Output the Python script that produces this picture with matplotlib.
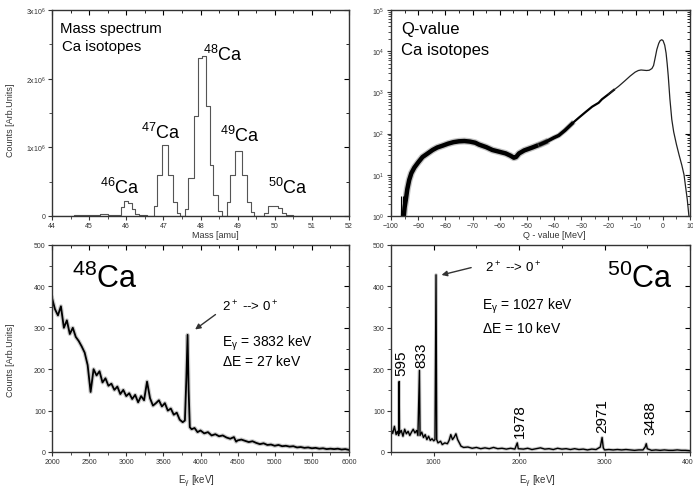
import numpy as np
import matplotlib.pyplot as plt
from matplotlib.ticker import MultipleLocator, FixedLocator, LogLocator, NullFormatter

plt.rcParams['font.family'] = ['Liberation Sans', 'DejaVu Sans']
plt.rcParams['mathtext.fontset'] = 'custom'
plt.rcParams['mathtext.rm'] = 'Liberation Sans'
plt.rcParams['mathtext.it'] = 'Liberation Sans:italic'
plt.rcParams['mathtext.default'] = 'regular'

# mass spectrum (step edges, counts in units of 1e6)
mass_edges = [44.0, 44.6, 45.0, 45.3, 45.5, 45.65, 45.85, 45.94, 46.06, 46.15, 46.24, 46.33, 46.55,
              46.75, 46.83, 46.95, 47.12, 47.25, 47.37, 47.45, 47.58, 47.66, 47.82, 47.92, 48.03,
              48.15, 48.25, 48.35, 48.46, 48.57, 48.71, 48.80, 48.93, 49.11, 49.25, 49.36, 49.45,
              49.70, 49.82, 50.08, 50.19, 50.30, 50.50, 52.0]
mass_counts = [0.0, 0.01, 0.02, 0.03, 0.02, 0.01, 0.13, 0.22, 0.19, 0.10, 0.03, 0.01, 0.0,
               0.15, 0.60, 1.03, 0.60, 0.20, 0.05, 0.0, 0.10, 0.55, 1.45, 2.30, 2.33,
               1.60, 0.75, 0.30, 0.07, 0.0, 0.20, 0.59, 0.95, 0.59, 0.20, 0.06, 0.0,
               0.05, 0.15, 0.11, 0.05, 0.01, 0.0, 0.0]
iso_labels = ['46', '47', '48', '49', '50']
iso_x = [45.29, 46.40, 48.08, 48.53, 49.83]
iso_y = [0.34, 1.13, 2.27, 1.09, 0.34]

# Q-value spectrum
q_val = [-95.3, -95.0, -94.5, -94.0, -93.3, -92.5, -91.4, -90.0, -88.4, -86.5, -84.7, -83.0,
         -81.0, -79.0, -77.0, -75.0, -73.0, -71.0, -69.0, -67.6, -65.0, -62.7, -60.0, -57.8,
         -56.0, -54.8, -54.0, -52.9, -51.0, -48.0, -45.0, -43.2, -40.0, -38.3, -36.0, -33.4,
         -31.0, -28.5, -26.0, -23.6, -22.4, -20.0, -18.0, -16.3, -14.0, -12.0, -10.2, -9.0,
         -8.0, -7.0, -6.0, -5.0, -4.0, -3.4, -2.7, -2.2, -1.5, -1.0, -0.4, 0.1, 0.7, 1.2,
         1.6, 2.0, 2.6, 3.3, 4.0, 5.0, 6.0, 7.0, 7.8, 8.4, 9.0, 9.6]
q_counts = [1.0, 1.6, 2.6, 4.5, 7.5, 11, 15, 20, 27, 33, 40, 46,
            51, 57, 62, 65, 66, 64, 60, 54, 47, 40, 36, 33,
            29, 26, 27, 33, 39, 46, 55, 62, 80, 90, 120, 175,
            240, 330, 450, 560, 680, 900, 1150, 1400, 1900, 2500, 3100, 3400,
            3500, 3450, 3400, 3450, 3800, 4500, 7500, 11000, 15500, 18000, 19000, 18000, 14000, 9000,
            5000, 2500, 700, 220, 110, 55, 30, 17, 10, 5, 2.5, 1.0]
q_spikes = [-96.4, -95.6]
q_spike_top = [3.0, 3.0]

# 48Ca gamma spectrum
e48 = [2000, 2040, 2080, 2120, 2160, 2200, 2240, 2280, 2320, 2360, 2400, 2440, 2480, 2520,
       2560, 2600, 2640, 2680, 2720, 2760, 2800, 2840, 2880, 2920, 2960, 3000, 3040, 3080,
       3120, 3160, 3200, 3240, 3280, 3320, 3360, 3400, 3440, 3480, 3520, 3560, 3600, 3640,
       3680, 3720, 3760, 3790, 3810, 3826, 3840, 3856, 3880, 3920, 3960, 4000, 4050, 4100,
       4150, 4200, 4250, 4300, 4350, 4400, 4450, 4480, 4500, 4550, 4600, 4650, 4700, 4750,
       4800, 4850, 4900, 4950, 5000, 5050, 5100, 5150, 5200, 5250, 5300, 5350, 5400, 5450,
       5500, 5550, 5600, 5650, 5700, 5750, 5800, 5850, 5900, 5950, 6000]
c48 = [372, 345, 330, 352, 300, 318, 285, 300, 278, 268, 255, 240, 210, 145,
       200, 185, 195, 168, 178, 160, 165, 150, 158, 140, 150, 135, 142, 128,
       138, 120, 135, 125, 170, 130, 112, 118, 125, 110, 118, 100, 105, 90,
       95, 78, 72, 76, 180, 283, 150, 60, 55, 58, 48, 52, 45, 48,
       40, 43, 38, 40, 35, 32, 36, 25, 28, 30, 27, 24, 26, 22,
       19, 21, 17, 18, 15, 17, 14, 15, 13, 14, 11, 12, 10, 11,
       9, 10, 8, 9, 7, 8, 7, 8, 6, 7, 5]

# 50Ca gamma spectrum
e50 = [500, 520, 540, 560, 575, 590, 595, 600, 620, 640, 660, 680, 700, 720, 740, 760, 780,
       800, 815, 833, 840, 860, 880, 900, 920, 940, 960, 980, 1000, 1015, 1027, 1035, 1050,
       1080, 1100, 1130, 1160, 1180, 1200, 1220, 1240, 1260, 1280, 1300, 1320, 1350, 1400,
       1450, 1500, 1550, 1600, 1650, 1700, 1750, 1800, 1850, 1900, 1950, 1978, 1990, 2050,
       2100, 2150, 2200, 2250, 2300, 2350, 2400, 2450, 2500, 2550, 2600, 2650, 2700, 2750,
       2800, 2850, 2900, 2950, 2971, 2985, 3000, 3050, 3100, 3150, 3200, 3250, 3300, 3350,
       3400, 3450, 3475, 3488, 3500, 3550, 3600, 3650, 3700, 3750, 3800, 3850, 3900, 3950, 4000]
c50 = [55, 45, 62, 42, 50, 40, 170, 45, 52, 38, 55, 44, 50, 40, 48, 55, 46,
       52, 40, 197, 40, 48, 35, 42, 30, 38, 28, 32, 27, 30, 428, 30, 22,
       26, 18, 22, 20, 28, 42, 30, 36, 44, 30, 22, 14, 11, 12,
       9, 11, 8, 10, 8, 11, 8, 9, 7, 9, 7, 22, 8, 7,
       9, 6, 8, 10, 7, 8, 6, 9, 7, 8, 6, 8, 6, 7,
       5, 7, 6, 12, 35, 10, 5, 6, 5, 6, 5, 6, 5, 4,
       5, 5, 12, 20, 8, 4, 5, 4, 5, 4, 4, 5, 4, 4, 3]
line_labels = ['595', '833', '1978', '2971', '3488']
line_lab_x = [617, 860, 2010, 2967, 3533]
line_lab_y = [185, 205, 36, 48, 44]

fc = '#222222'
fig = plt.figure(figsize=(6.93, 4.89), dpi=100)
ax1 = fig.add_axes([52/693, 1-217/489, 297/693, 206/489])
ax2 = fig.add_axes([391/693, 1-217/489, 299/693, 206/489])
ax3 = fig.add_axes([52/693, 1-453/489, 297/693, 207/489])
ax4 = fig.add_axes([391/693, 1-453/489, 299/693, 207/489])

def style(ax):
    for s in ax.spines.values():
        s.set_linewidth(1.0)
        s.set_color('#333333')
    ax.tick_params(which='both', direction='out', labelsize=5, pad=1.5, colors='#333333')
    ax.tick_params(which='major', length=3, width=0.8)
    ax.tick_params(which='minor', length=2, width=0.6)
    sx = ax.secondary_xaxis('top')
    sy = ax.secondary_yaxis('right')
    for sa in (sx, sy):
        for s in sa.spines.values():
            s.set_visible(False)
    return sx, sy

# top left: mass spectrum
ax1.step(mass_edges, mass_counts, where='post', color='#555555', lw=0.8)
ax1.set_xlim(44, 52)
ax1.set_ylim(0, 3)
ax1.xaxis.set_major_locator(MultipleLocator(1))
ax1.xaxis.set_minor_locator(MultipleLocator(0.5))
ax1.yaxis.set_major_locator(MultipleLocator(1))
ax1.yaxis.set_minor_locator(MultipleLocator(0.5))
ax1.yaxis.set_major_formatter(plt.FuncFormatter(lambda v, p: '0' if v == 0 else '%dx10$^6$' % v))
sx, sy = style(ax1)
sx.set_ticks(list(range(44, 53)))
sy.set_ticks([0, 1, 2, 3])
sx.xaxis.set_minor_locator(MultipleLocator(0.5))
sy.yaxis.set_minor_locator(MultipleLocator(0.5))
sx.tick_params(which='both', direction='in', labeltop=False)
sy.tick_params(which='both', direction='in', labelright=False)
ax1.set_xlabel('Mass [amu]', fontsize=6.5, color='#333333')
ax1.xaxis.set_label_coords(0.55, -0.068)
ax1.set_ylabel('Counts [Arb.Units]', fontsize=6.5, color='#333333')
ax1.yaxis.set_label_coords(-0.125, 0.47)
ax1.text(0.027, 0.913, 'Mass spectrum', transform=ax1.transAxes, fontsize=10.8, va='center')
ax1.text(0.033, 0.825, 'Ca isotopes', transform=ax1.transAxes, fontsize=10.8, va='center')
for lab, x, y in zip(iso_labels, iso_x, iso_y):
    ax1.text(x, y, '$^{%s}$Ca' % lab, fontsize=13, va='baseline', ha='left')

# top right: Q-value
qv = np.array(q_val)
qc = np.array(q_counts)
m1 = qv <= -43
m2 = (qv >= -45) & (qv <= -33)
m3 = (qv >= -36) & (qv <= -18)
m4 = qv >= -20
ax2.plot(qv[m1], qc[m1], color='#888888', lw=5.0, alpha=0.5, solid_joinstyle='round')
ax2.plot(qv[m1], qc[m1], color='black', lw=3.2, solid_joinstyle='round')
ax2.plot(qv[m2], qc[m2], color='#888888', lw=3.8, alpha=0.5, solid_joinstyle='round')
ax2.plot(qv[m2], qc[m2], color='black', lw=2.5, solid_joinstyle='round')
ax2.plot(qv[m3], qc[m3], color='black', lw=1.6, solid_joinstyle='round')
ax2.plot(qv[m4], qc[m4], color=fc, lw=0.9)
ax2.vlines(q_spikes, 1, q_spike_top, color='black', lw=0.8)
ax2.set_yscale('log')
ax2.set_xlim(-100, 10)
ax2.set_ylim(1, 1e5)
ax2.xaxis.set_major_locator(MultipleLocator(10))
ax2.xaxis.set_minor_locator(MultipleLocator(5))
ax2.yaxis.set_major_locator(LogLocator(base=10, numticks=10))
ax2.yaxis.set_minor_locator(LogLocator(base=10, subs=np.arange(2, 10), numticks=10))
ax2.yaxis.set_minor_formatter(NullFormatter())
sx, sy = style(ax2)
sx.set_ticks(list(range(-100, 11, 10)))
sx.xaxis.set_minor_locator(MultipleLocator(5))
sx.tick_params(which='both', direction='in', labeltop=False)
sy.yaxis.set_major_locator(LogLocator(base=10, numticks=10))
sy.yaxis.set_minor_locator(LogLocator(base=10, subs=np.arange(2, 10), numticks=10))
sy.yaxis.set_minor_formatter(NullFormatter())
sy.tick_params(which='both', direction='in', labelright=False)
ax2.set_xlabel('Q - value [MeV]', fontsize=6.5, color='#333333')
ax2.xaxis.set_label_coords(0.545, -0.068)
ax2.text(0.035, 0.908, 'Q-value', transform=ax2.transAxes, fontsize=12, va='center')
ax2.text(0.035, 0.81, 'Ca isotopes', transform=ax2.transAxes, fontsize=12, va='center')

# bottom left: 48Ca
ax3.plot(e48, c48, color='#999999', lw=3.0, alpha=0.5)
ax3.plot(e48, c48, color='black', lw=1.3)
ax3.set_xlim(2000, 6000)
ax3.set_ylim(0, 500)
ax3.xaxis.set_major_locator(MultipleLocator(500))
ax3.xaxis.set_minor_locator(MultipleLocator(250))
ax3.yaxis.set_major_locator(MultipleLocator(100))
ax3.yaxis.set_minor_locator(MultipleLocator(50))
sx, sy = style(ax3)
sx.set_ticks(list(range(2000, 6001, 500)))
sx.xaxis.set_minor_locator(MultipleLocator(250))
sy.set_ticks(list(range(0, 501, 100)))
sy.yaxis.set_minor_locator(MultipleLocator(50))
sx.tick_params(which='both', direction='in', labeltop=False)
sy.tick_params(which='both', direction='in', labelright=False)
ax3.set_xlabel('E$_\\gamma$ [keV]', fontsize=7, color='#333333')
ax3.xaxis.set_label_coords(0.487, -0.10)
ax3.set_ylabel('Counts [Arb.Units]', fontsize=6.5, color='#333333')
ax3.yaxis.set_label_coords(-0.125, 0.45)
ax3.text(2264, 398, '$^{48}$Ca', fontsize=22, va='baseline')
ax3.annotate('', xy=(3897, 292), xytext=(4232, 336),
             arrowprops=dict(arrowstyle='-|>', color='#333333', lw=1.0, mutation_scale=8))
ax3.text(4291, 354, '2$^+$ --> 0$^+$', fontsize=9.5, va='center')
ax3.text(4291, 265, 'E$_\\gamma$ = 3832 keV', fontsize=10, va='center')
ax3.text(4291, 221, '$\\Delta$E = 27 keV', fontsize=10, va='center')

# bottom right: 50Ca
ax4.plot(e50, c50, color='#999999', lw=2.4, alpha=0.5)
ax4.plot(e50, c50, color='black', lw=1.0)
ax4.set_xlim(500, 4000)
ax4.set_ylim(0, 500)
ax4.xaxis.set_major_locator(FixedLocator([1000, 2000, 3000, 4000]))
ax4.xaxis.set_minor_locator(FixedLocator([500, 1500, 2500, 3500]))
ax4.yaxis.set_major_locator(MultipleLocator(100))
ax4.yaxis.set_minor_locator(MultipleLocator(50))
sx, sy = style(ax4)
sx.set_ticks([1000, 2000, 3000, 4000])
sx.xaxis.set_minor_locator(FixedLocator([500, 1500, 2500, 3500]))
sy.set_ticks(list(range(0, 501, 100)))
sy.yaxis.set_minor_locator(MultipleLocator(50))
sx.tick_params(which='both', direction='in', labeltop=False)
sy.tick_params(which='both', direction='in', labelright=False)
ax4.set_xlabel('E$_\\gamma$ [keV]', fontsize=7, color='#333333')
ax4.xaxis.set_label_coords(0.488, -0.10)
ax4.text(3026, 398, '$^{50}$Ca', fontsize=22, va='baseline')
ax4.annotate('', xy=(1060, 426), xytext=(1470, 447),
             arrowprops=dict(arrowstyle='-|>', color='#333333', lw=1.0, mutation_scale=8))
ax4.text(1600, 447, '2$^+$ --> 0$^+$', fontsize=9.5, va='center')
ax4.text(1562, 354, 'E$_\\gamma$ = 1027 keV', fontsize=10, va='center')
ax4.text(1562, 301, '$\\Delta$E = 10 keV', fontsize=10, va='center')
for lab, x, y in zip(line_labels, line_lab_x, line_lab_y):
    ax4.text(x, y, lab, rotation=90, fontsize=11, ha='center', va='bottom')

fig.savefig('out.png', dpi=100)
